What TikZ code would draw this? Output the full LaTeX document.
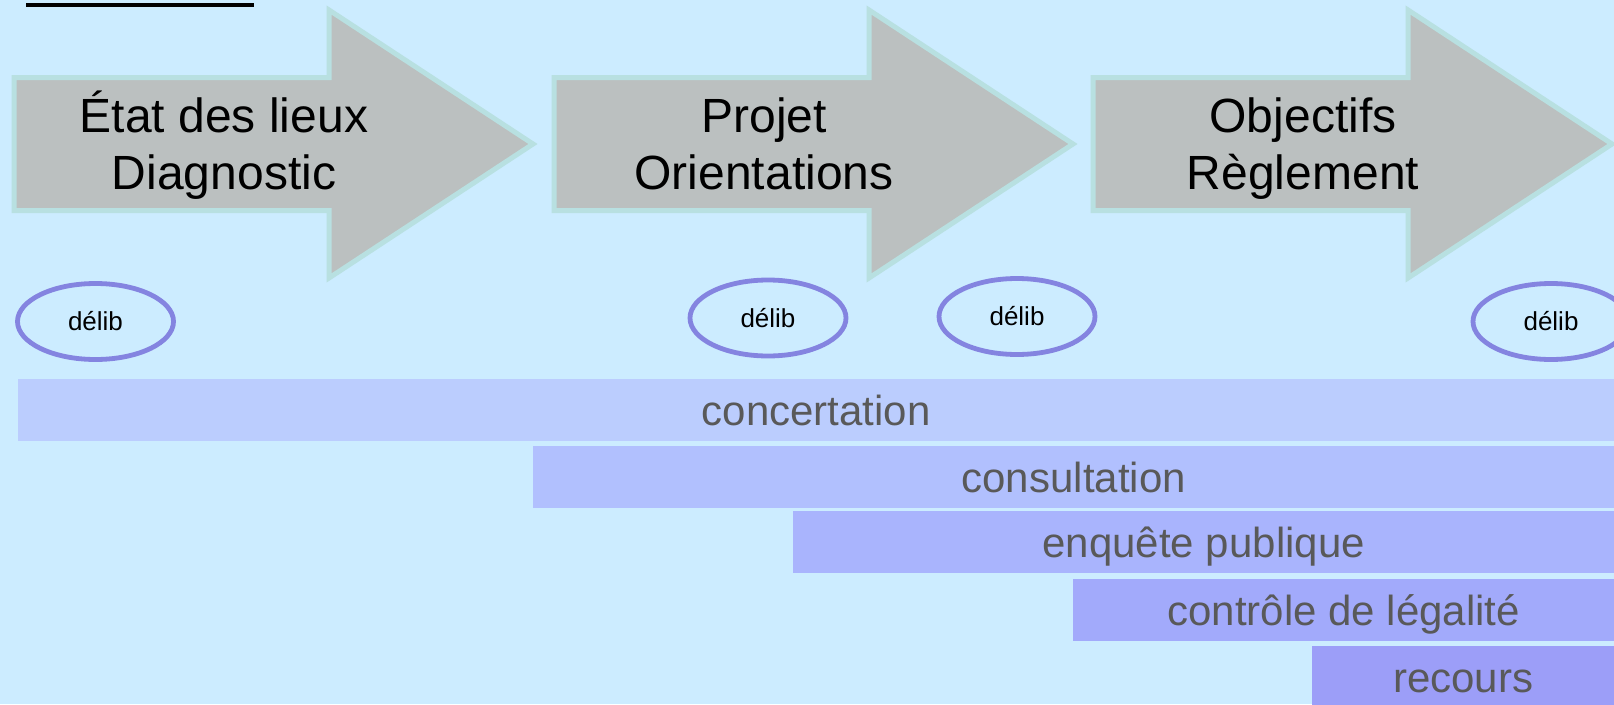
\documentclass[tikz,border=0pt]{standalone}
\usepackage{fontspec}
\setmainfont{Liberation Sans}
\usetikzlibrary{shapes.geometric}
\definecolor{fond}{HTML}{CCECFF}
\definecolor{gris}{HTML}{BBC0C0}
\definecolor{bordfleche}{HTML}{B8E0E1}
\definecolor{lila}{HTML}{8484E0}
\definecolor{grisfonce}{HTML}{595959}
\definecolor{bandeA}{HTML}{BBCDFE}
\definecolor{bandeB}{HTML}{B1C0FE}
\definecolor{bandeC}{HTML}{A9B4FD}
\definecolor{bandeD}{HTML}{A2AAFB}
\definecolor{bandeE}{HTML}{9C9EF8}

\begin{document}
\begin{tikzpicture}[x=1pt,y=-1pt,
    fleche/.style={fill=gris,draw=bordfleche,line width=5pt,line join=miter},
    etape/.style={align=center,font=\fontsize{48}{57}\selectfont},
    delib/.style={ellipse,draw=lila,line width=4.8pt,minimum width=156pt,minimum height=76pt,inner sep=0pt,font=\fontsize{26}{30}\selectfont},
    bande/.style={anchor=north west,minimum height=62pt,inner sep=0pt,text height=30pt,text depth=0pt,text=grisfonce,font=\fontsize{42}{50}\selectfont}]
      \useasboundingbox (0,0) rectangle (1614,704);
      \fill[fond] (0,0) rectangle (1614,704);
      \coordinate (traitg) at (26,5);
      \coordinate (traitd) at (254,5);
      \draw[line width=3.5pt] (traitg)--(traitd);
      % les trois etapes
      \filldraw[fleche] (14,77.5)--++(315,0)--++(0,-67.5)--++(204,134)--++(-204,134)--++(0,-67.5)--++(-315,0)--cycle;
      \filldraw[fleche] (554,77.5)--++(315,0)--++(0,-67.5)--++(204,134)--++(-204,134)--++(0,-67.5)--++(-315,0)--cycle;
      \filldraw[fleche] (1093,77.5)--++(315,0)--++(0,-67.5)--++(204,134)--++(-204,134)--++(0,-67.5)--++(-315,0)--cycle;
      \node[etape] (etat) at (224,145) {État des lieux\\Diagnostic};
      \node[etape] (projet) at (764,144) {Projet\\Orientations};
      \node[etape] (objectifs) at (1303,149) {Objectifs\\Règlement};
      % délib
      \node[delib] (delibA) at (95.5,321.5) {délib};
      \node[delib] (delibB) at (768,318) {délib};
      \node[delib] (delibC) at (1017,316.5) {délib};
      \node[delib] (delibD) at (1551,321.5) {délib};
      % bandes
      \node[bande,fill=bandeA,minimum width=1596pt] (concertation) at (18,379) {concertation};
      \node[bande,fill=bandeB,minimum width=1081pt] (consultation) at (533,446) {consultation};
      \node[bande,fill=bandeC,minimum width=821pt] (enquete) at (793,511) {enquête publique};
      \node[bande,fill=bandeD,minimum width=541pt] (controle) at (1073,579) {contrôle de légalité};
      \node[bande,fill=bandeE,minimum width=302pt] (recours) at (1312,646) {recours};
    \end{tikzpicture}
\end{document}
